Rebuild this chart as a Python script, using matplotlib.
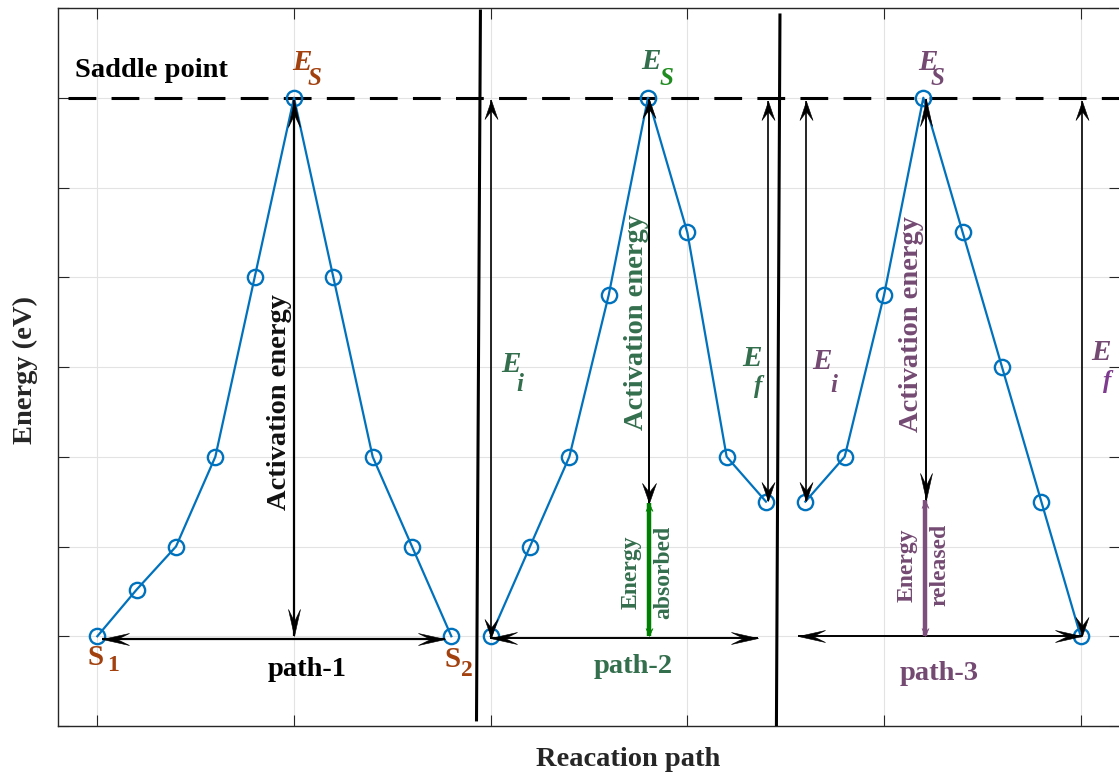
import numpy as np
import matplotlib
matplotlib.use('Agg')
import matplotlib.pyplot as plt
from matplotlib.path import Path

# ---------------- data ----------------
path1_x = [0.0, 0.2, 0.4, 0.6, 0.8, 1.0, 1.2, 1.4, 1.6, 1.8]
path1_e = [0.0, 0.26, 0.5, 1.0, 2.0, 3.0, 2.0, 1.0, 0.5, 0.0]
path2_x = [2.0, 2.2, 2.4, 2.6, 2.8, 3.0, 3.2, 3.4]
path2_e = [0.0, 0.5, 1.0, 1.9, 3.0, 2.25, 1.0, 0.75]
path3_x = [3.6, 3.8, 4.0, 4.2, 4.4, 4.6, 4.8, 5.0]
path3_e = [0.75, 1.0, 1.9, 3.0, 2.25, 1.5, 0.75, 0.0]

saddle_energy = 3.0
x_ticks = [0, 1, 2, 3, 4, 5]
y_ticks = [-0.5, 0.0, 0.5, 1.0, 1.5, 2.0, 2.5, 3.0, 3.5]

# colours
BLUE = '#0072BD'
BROWN = '#A2400E'
DGREEN = '#336E4D'
LGREEN = '#1E8C1E'
BARGREEN = '#008000'
PURPLE = '#744A73'
BARPURPLE = '#7C4F7C'
FPURPLE = '#7D3A8E'

plt.rcParams['font.family'] = ['Liberation Serif', 'DejaVu Serif']

fig = plt.figure(figsize=(11.19, 7.78), dpi=100)
ax = fig.add_axes([58 / 1119, 52 / 778, 1062 / 1119, 718 / 778])
ax.set_xlim(-0.2, 5.2)
ax.set_ylim(-0.5, 3.5)
ax.set_xticks(x_ticks)
ax.set_yticks(y_ticks)
ax.tick_params(direction='in', length=8, width=0.8, top=True, right=True,
               labelbottom=False, labelleft=False, colors='#262626')
ax.grid(True, color='#e3e3e3', lw=0.8)
ax.set_axisbelow(True)
for s in ax.spines.values():
    s.set_color('#262626')
    s.set_linewidth(1.0)

# ---------------- curves ----------------
for xs, es in [(path1_x, path1_e), (path2_x, path2_e), (path3_x, path3_e)]:
    ax.plot(xs, es, color=BLUE, lw=1.6, marker='o', ms=11, mfc='none',
            mew=1.7, zorder=4)

# saddle dashed line
lw_d = 2.2
ax.plot([-0.149, 5.3], [saddle_energy, saddle_energy], color='black', lw=lw_d,
        linestyle=(0, (20.0 / lw_d, 11.0 / lw_d)), zorder=3)

# separators
ax.plot([1.948, 1.928], [3.483, -0.466], color='black', lw=2.2, zorder=3)
ax.plot([3.471, 3.453], [3.461, -0.5], color='black', lw=2.2, zorder=3)


# ---------------- arrows ----------------
def head_marker(direction, L, W, notch=0.55):
    v = np.array([[0, 0], [-W / 2, -L], [0, -notch * L], [W / 2, -L], [0, 0]], float)
    ang = {'up': 0.0, 'down': np.pi, 'left': np.pi / 2, 'right': -np.pi / 2}[direction]
    c, s = np.cos(ang), np.sin(ang)
    v = v @ np.array([[c, -s], [s, c]]).T
    codes = [Path.MOVETO, Path.LINETO, Path.LINETO, Path.LINETO, Path.CLOSEPOLY]
    return Path(v, codes)


OPP = {'up': 'down', 'down': 'up', 'left': 'right', 'right': 'left'}


def draw_arrow(x0, y0, x1, y1, h0, h1, lw=1.3, color='black', z=6):
    """h0/h1 : (L, W) in px of head at start / end, or None"""
    ax.plot([x0, x1], [y0, y1], color=color, lw=lw, solid_capstyle='butt', zorder=z)
    dx, dy = x1 - x0, y1 - y0
    if abs(dx) > abs(dy):
        d_end = 'right' if dx > 0 else 'left'
    else:
        d_end = 'up' if dy > 0 else 'down'
    for (xx, yy, h, d) in [(x1, y1, h1, d_end), (x0, y0, h0, OPP[d_end])]:
        if h is None:
            continue
        L, W = h
        ax.plot([xx], [yy], ls='none', marker=head_marker(d, L, W),
                ms=2 * L * 0.72, color=color, mew=0.4, mec=color, zorder=z + 1)


LONG = (27, 12)
SHORT = (19, 13)
SMALL = (8, 7)

# path 1
draw_arrow(1.0, 2.99, 1.0, 0.0, LONG, LONG, lw=1.6)
draw_arrow(0.024, -0.014, 1.768, -0.014, LONG, LONG, lw=1.6)
# path 2
draw_arrow(2.0, -0.01, 2.0, 2.99, SHORT, SHORT, lw=1.2)
draw_arrow(3.41, 0.754, 3.41, 2.98, SHORT, SHORT, lw=1.2)
draw_arrow(2.805, 2.995, 2.805, 0.745, SHORT, (20, 14), lw=1.4)
draw_arrow(1.996, -0.01, 3.36, -0.01, LONG, LONG, lw=1.4)
draw_arrow(2.805, 0.0, 2.805, 0.742, SMALL, SMALL, lw=3.2, color=BARGREEN)
# path 3
draw_arrow(3.603, 0.754, 3.603, 2.98, SHORT, SHORT, lw=1.2)
draw_arrow(4.212, 2.995, 4.212, 0.76, LONG, LONG, lw=1.4)
draw_arrow(5.009, 0.0, 5.009, 2.98, SHORT, SHORT, lw=1.2)
draw_arrow(3.562, 0.0, 5.005, 0.0, LONG, LONG, lw=1.4)
draw_arrow(4.208, 0.0, 4.208, 0.76, SMALL, SMALL, lw=3.2, color=BARPURPLE)

# ---------------- texts ----------------
BIG = 20.5
ax.text(-0.113, 3.117, 'Saddle point', fontsize=BIG, fontweight='bold',
        ha='left', va='baseline', color='black')


def sub_label(xm, ym, main, xs, ys, sub, cm, cs, italic=True, fm=21, fs=18):
    st = 'italic' if italic else 'normal'
    ax.text(xm, ym, main, fontsize=fm, fontweight='bold', fontstyle='italic',
            color=cm, ha='center', va='center', zorder=8)
    ax.text(xs, ys, sub, fontsize=fs, fontweight='bold', fontstyle=st,
            color=cs, ha='center', va='center', zorder=8)


# E_S labels
sub_label(1.041, 3.195, 'E', 1.105, 3.105, 'S', BROWN, BROWN)
sub_label(2.815, 3.200, 'E', 2.892, 3.11, 'S', DGREEN, LGREEN)
sub_label(4.223, 3.195, 'E', 4.272, 3.105, 'S', PURPLE, PURPLE)
# E_i / E_f
sub_label(2.103, 1.512, 'E', 2.150, 1.405, 'i', DGREEN, DGREEN)
sub_label(3.328, 1.545, 'E', 3.362, 1.39, 'f', DGREEN, DGREEN)
sub_label(3.684, 1.528, 'E', 3.745, 1.395, 'i', PURPLE, PURPLE)
sub_label(5.103, 1.578, 'E', 5.135, 1.418, 'f', PURPLE, FPURPLE)

# S1, S2 (upright)
ax.text(-0.007, -0.121, 'S', fontsize=21, fontweight='bold', color=BROWN,
        ha='center', va='center')
ax.text(0.078, -0.165, '1', fontsize=17, fontweight='bold', color=BROWN,
        ha='center', va='center')
ax.text(1.808, -0.132, 'S', fontsize=21, fontweight='bold', color=BROWN,
        ha='center', va='center')
ax.text(1.877, -0.193, '2', fontsize=17, fontweight='bold', color=BROWN,
        ha='center', va='center')

# path names
ax.text(1.066, -0.187, 'path-1', fontsize=BIG, fontweight='bold', color='black',
        ha='center', va='center')
ax.text(2.723, -0.17, 'path-2', fontsize=BIG, fontweight='bold', color=DGREEN,
        ha='center', va='center')
ax.text(4.279, -0.209, 'path-3', fontsize=BIG, fontweight='bold', color=PURPLE,
        ha='center', va='center')

# activation energy labels
ax.text(0.924, 1.305, 'Activation energy', rotation=90, fontsize=BIG,
        fontweight='bold', color='#111111', ha='center', va='center', zorder=8)
ax.text(2.739, 1.75, 'Activation energy', rotation=90, fontsize=BIG,
        fontweight='bold', color=DGREEN, ha='center', va='center', zorder=8)
ax.text(4.142, 1.74, 'Activation energy', rotation=90, fontsize=BIG,
        fontweight='bold', color=PURPLE, ha='center', va='center', zorder=8)

# energy absorbed / released
ax.text(2.798, 0.358, 'Energy\nabsorbed', rotation=90, fontsize=17,
        fontweight='bold', color=DGREEN, ha='center', va='center',
        multialignment='center', linespacing=1.7, zorder=8)
ax.text(4.200, 0.397, 'Energy\nreleased', rotation=90, fontsize=17,
        fontweight='bold', color=PURPLE, ha='center', va='center',
        multialignment='center', linespacing=1.7, zorder=8)

# axis labels
ax.set_xlabel('Reacation path', fontsize=BIG, fontweight='bold', color='#262626',
              va='center')
ax.xaxis.set_label_coords((628 - 58) / 1062, (726 - 760) / 718)
ax.set_ylabel('Energy (eV)', fontsize=BIG, fontweight='bold', color='#262626',
              va='center')
ax.yaxis.set_label_coords((25 - 58) / 1062, (726 - 370) / 718)

fig.savefig('out.png', dpi=100)
